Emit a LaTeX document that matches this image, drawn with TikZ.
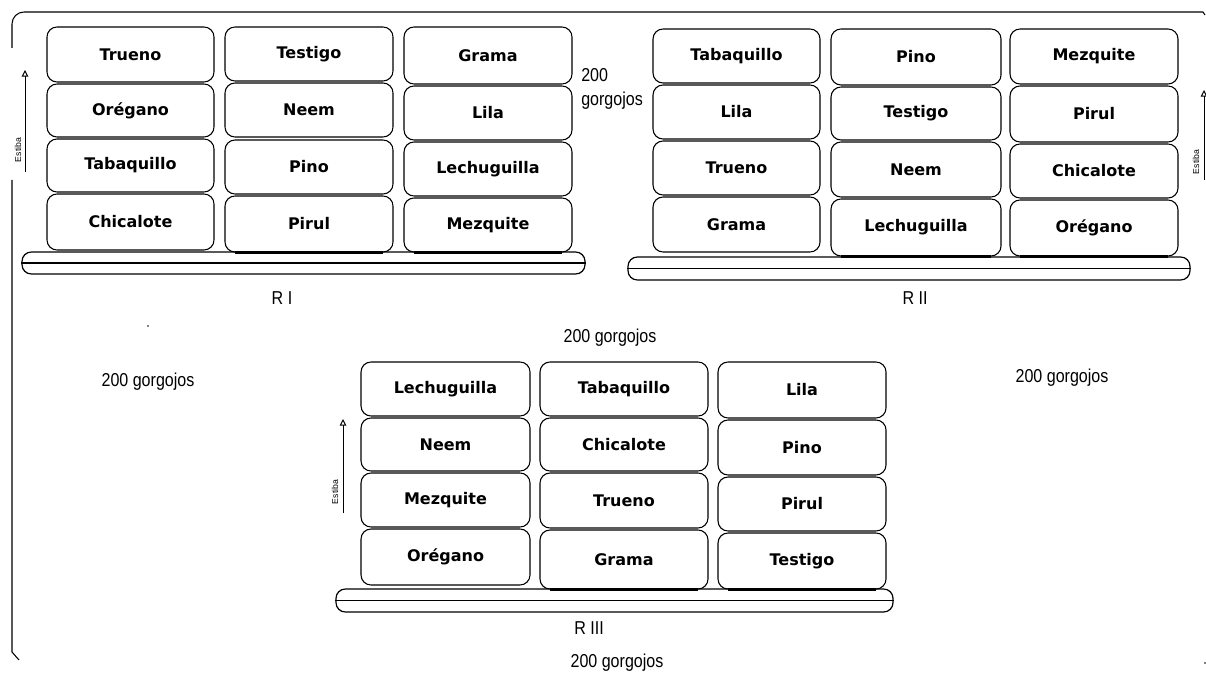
\documentclass[tikz,border=0pt]{standalone}
\usepackage{fontspec}
\setmainfont{Liberation Sans}
\newfontfamily\cellfont{DejaVu Sans}
\newfontfamily\lblfont[FakeStretch=0.86]{Liberation Sans}
\usetikzlibrary{arrows.meta}
\tikzset{
 cell/.style={draw, line width=0.8pt, rounded corners=7.5pt, inner sep=0pt, font=\cellfont\bfseries\fontsize{12}{14}\selectfont},
 barbox/.style={draw, line width=0.9pt, rounded corners=7pt, inner sep=0pt},
 lbl/.style={font=\lblfont\fontsize{14}{17}\selectfont, inner sep=0pt},
 thickline/.style={line width=1.8pt},
 estarrow/.style={line width=0.75pt, -{Triangle[open,length=5pt,width=5pt]}},
 esttext/.style={font=\fontsize{6.5}{7}\selectfont, rotate=90, inner sep=0pt},
 frameline/.style={line width=0.8pt},
}
\newcommand\cellbox[6]{\node[cell, minimum width={(#4-#2)*0.75pt}, minimum height={(#5-#3)*0.75pt}] (#1) at ({(#2+#4)/2},{(#3+#5)/2}) {#6};}
\newcommand\barnode[5]{\node[barbox, minimum width={(#4-#2)*0.75pt}, minimum height={(#5-#3)*0.75pt}] (#1) at ({(#2+#4)/2},{(#3+#5)/2}) {};
\draw[line width=0.8pt] (#1.west) -- (#1.east);}
\newcommand\thickunder[1]{\draw[thickline] ([xshift=8pt]#1.south west) -- ([xshift=-8pt]#1.south east);}
\begin{document}
\begin{tikzpicture}[x=0.75pt,y=-0.75pt]
\useasboundingbox (0,0) rectangle (1206,677);
% frame
\draw[frameline, rounded corners=9pt] (12,48) -- (12,12) -- (1203,12);
\draw[frameline] (1203,12) -- (1205,15);
\draw[frameline] (12,180) -- (12,652) -- (19,660);
\fill (148,326) circle (0.6pt);
\fill (1205,663) circle (0.6pt);
% R I
\cellbox{a11}{47}{27}{214}{82}{Trueno}
\cellbox{a12}{47}{84}{214}{137}{Orégano}
\cellbox{a13}{47}{139}{214}{192}{Tabaquillo}
\cellbox{a14}{47}{194}{214}{250}{Chicalote}
\cellbox{a21}{225}{27}{393}{81}{Testigo}
\cellbox{a22}{225}{83}{393}{137}{Neem}
\cellbox{a23}{225}{140}{393}{194}{Pino}
\cellbox{a24}{225}{196}{393}{252}{Pirul}
\cellbox{a31}{404}{27}{572}{84}{Grama}
\cellbox{a32}{404}{86}{572}{140}{Lila}
\cellbox{a33}{404}{142}{572}{196}{Lechuguilla}
\cellbox{a34}{404}{198}{572}{252}{Mezquite}
\barnode{bar1}{22}{252}{585}{274}
\thickunder{a24}
\thickunder{a34}
\node[lbl] (r1) at (282,298) {R I};
\coordinate (a1s) at (25,172);
\coordinate (a1e) at (25,70);
\draw[estarrow] (a1s) -- (a1e);
\node[esttext] (t1) at (18,150) {Estiba};
% R II
\cellbox{b11}{653}{29}{820}{83}{Tabaquillo}
\cellbox{b12}{653}{85}{820}{139}{Lila}
\cellbox{b13}{653}{141}{820}{195}{Trueno}
\cellbox{b14}{653}{197}{820}{252}{Grama}
\cellbox{b21}{831}{29}{1001}{85}{Pino}
\cellbox{b22}{831}{87}{1001}{140}{Testigo}
\cellbox{b23}{831}{142}{1001}{197}{Neem}
\cellbox{b24}{831}{199}{1001}{256}{Lechuguilla}
\cellbox{b31}{1010}{29}{1178}{84}{Mezquite}
\cellbox{b32}{1010}{86}{1178}{142}{Pirul}
\cellbox{b33}{1010}{144}{1178}{198}{Chicalote}
\cellbox{b34}{1010}{200}{1178}{256}{Orégano}
\barnode{bar2}{628}{257}{1190}{280}
\thickunder{b24}
\thickunder{b34}
\node[lbl] (r2) at (915,298) {R II};
\coordinate (a2s) at (1204,180);
\coordinate (a2e) at (1204,90);
\draw[estarrow] (a2s) -- (a2e);
\node[esttext] (t2) at (1196,162) {Estiba};
% R III
\cellbox{c11}{361}{362}{530}{416}{Lechuguilla}
\cellbox{c12}{361}{418}{530}{471}{Neem}
\cellbox{c13}{361}{473}{530}{527}{Mezquite}
\cellbox{c14}{361}{529}{530}{585}{Orégano}
\cellbox{c21}{540}{362}{708}{416}{Tabaquillo}
\cellbox{c22}{540}{418}{708}{471}{Chicalote}
\cellbox{c23}{540}{473}{708}{528}{Trueno}
\cellbox{c24}{540}{530}{708}{589}{Grama}
\cellbox{c31}{718}{362}{886}{418}{Lila}
\cellbox{c32}{718}{420}{886}{475}{Pino}
\cellbox{c33}{718}{477}{886}{531}{Pirul}
\cellbox{c34}{718}{533}{886}{589}{Testigo}
\barnode{bar3}{336}{589}{893}{612}
\thickunder{c24}
\thickunder{c34}
\node[lbl] (r3) at (589,628) {R III};
\coordinate (a3s) at (343,513);
\coordinate (a3e) at (343,419);
\draw[estarrow] (a3s) -- (a3e);
\node[esttext] (t3) at (335,492) {Estiba};
% labels
\node[lbl, align=left, anchor=north west] (g1) at (581,68) {200\\[1pt]gorgojos};
\node[lbl] (g2) at (610,338) {200 gorgojos};
\node[lbl] (g3) at (148,382) {200 gorgojos};
\node[lbl] (g4) at (1062,378) {200 gorgojos};
\node[lbl] (g5) at (617,663) {200 gorgojos};
\end{tikzpicture}
\end{document}
